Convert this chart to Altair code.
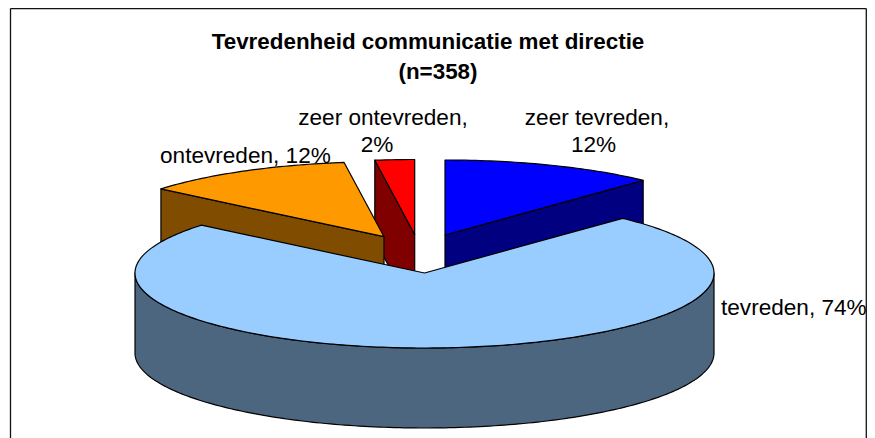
import math
import altair as alt

# --- values
categories = ["zeer tevreden", "tevreden", "ontevreden", "zeer ontevreden"]
shares = [12.0, 74.0, 11.8, 2.2]           # slice sizes (% of the pie)
percent_labels = ["12%", "74%", "12%", "2%"]

top_colors = ["#0000FF", "#99CCFF", "#FF9900", "#FF0000"]
side_colors = ["#000080", "#4D6680", "#804D00", "#800000"]

# --- pie geometry (page pixels)
RX, RY, DEPTH = 289.5, 75.0, 80.0
APEX = [(445.0, 235.0), (424.5, 273.0), (384.0, 236.7), (414.7, 234.5)]
OFF = 8  # page margin


def rim(i, deg):
    a = math.radians(deg)
    return (APEX[i][0] + RX * math.sin(a), APEX[i][1] - RY * math.cos(a))


def arc(i, d0, d1):
    n = max(2, int(abs(d1 - d0)))
    return [rim(i, d0 + (d1 - d0) * k / n) for k in range(n + 1)]


def feature(name, pts, fill):
    ring = [[x - OFF, y - OFF] for x, y in pts]
    ring.append(ring[0])
    return {
        "type": "Feature",
        "geometry": {"type": "Polygon", "coordinates": [ring]},
        "properties": {"name": name, "fill": fill},
    }


def down(pts):
    return [(x, y + DEPTH) for x, y in pts]


angles = []
start = 0.0
for s in shares:
    angles.append((start, start + s * 3.6))
    start += s * 3.6

features = []
for i in [3, 2, 0, 1]:  # back to front
    a0, a1 = angles[i]
    if i == 1:
        # outer wall of the big slice: front half of the rim
        edge = arc(i, 90, 270)
        side = edge + down(edge)[::-1]
    elif i == 0:
        # cut face on the clockwise end
        pts = [APEX[i], rim(i, a1)]
        side = pts + down(pts)[::-1]
    else:
        # cut face on the counter-clockwise end
        pts = [rim(i, a0), APEX[i]]
        side = pts + down(pts)[::-1]
    features.append(feature(categories[i] + " side", side, side_colors[i]))
    features.append(feature(categories[i], [APEX[i]] + arc(i, a0, a1), top_colors[i]))

slices = (
    alt.Chart(alt.Data(values=features))
    .mark_geoshape(stroke="black", strokeWidth=1.2, strokeJoin="round")
    .encode(color=alt.Color("properties.fill:N", scale=None))
)


def text(s, x, y, bold=False, align="center", size=22.6):
    return (
        alt.Chart(alt.Data(values=[{"t": s}]))
        .mark_text(
            font="Liberation Sans",
            fontSize=size,
            fontWeight="bold" if bold else "normal",
            align=align,
            baseline="alphabetic",
            color="black",
        )
        .encode(x=alt.value(x - OFF), y=alt.value(y - OFF), text="t:N")
    )


def frame(x, x2, y, y2):
    return (
        alt.Chart(alt.Data(values=[{"f": 1}]))
        .mark_rule(color="#111111", strokeWidth=1.3)
        .encode(x=alt.value(x - OFF), x2=alt.value(x2 - OFF),
                y=alt.value(y - OFF), y2=alt.value(y2 - OFF))
    )


layers = [
    frame(10.5, 10.5, 8.5, 445),
    frame(10.5, 866.3, 8.5, 8.5),
    frame(866.3, 866.3, 8.5, 445),
    slices,
    text("Tevredenheid communicatie met directie", 428, 49, bold=True, size=22.4),
    text("(n=358)", 438, 79, bold=True, size=22.4),
    text(f"{categories[3]},", 383, 124.5),
    text(percent_labels[3], 377, 152),
    text(f"{categories[0]},", 597, 124.5),
    text(percent_labels[0], 593.5, 152),
    text(f"{categories[2]}, {percent_labels[2]}", 160, 162.5, align="left"),
    text(f"{categories[1]}, {percent_labels[1]}", 721, 315, align="left"),
]

chart = (
    alt.layer(*layers)
    .properties(
        width=859,
        height=430,
        padding=0,
        autosize=alt.AutoSizeParams(type="none"),
        projection=alt.Projection(type="identity", scale=1, translate=[0, 0]),
    )
    .configure_view(stroke=None)
)

chart.save("out.html", embed_options={"renderer": "svg", "actions": False})
